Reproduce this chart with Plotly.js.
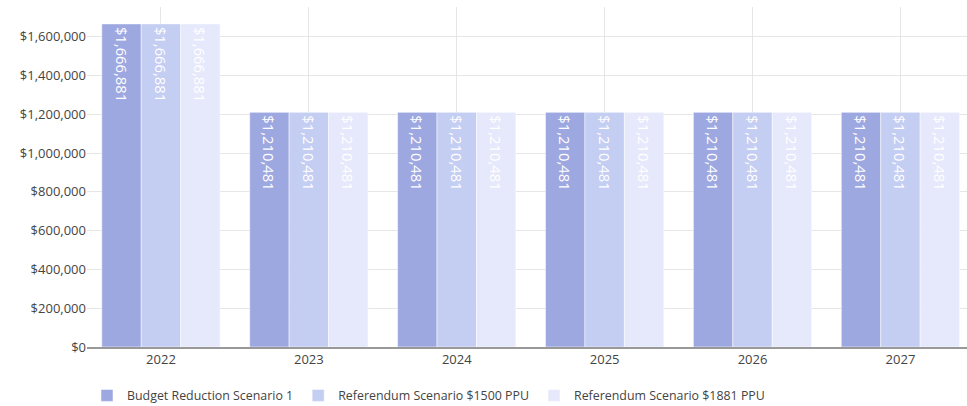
<!DOCTYPE html>
<html><head><meta charset="utf-8">
<script src="https://cdn.plot.ly/plotly-3.0.1.min.js"></script>
<style>html,body{margin:0;padding:0;background:#fff;}#chart{width:967px;height:406px;}</style>
</head><body><div id="chart"></div>
<script>
var years = ["2022","2023","2024","2025","2026","2027"];
var seriesNames = ["Budget Reduction Scenario 1","Referendum Scenario $1500 PPU","Referendum Scenario $1881 PPU"];
var budgetReduction1 = [1666881,1210481,1210481,1210481,1210481,1210481];
var referendum1500 = [1666881,1210481,1210481,1210481,1210481,1210481];
var referendum1881 = [1666881,1210481,1210481,1210481,1210481,1210481];
var colors = ["#9ea8e0","#c4cdf2","#e6e9fb"];
var allValues = [budgetReduction1, referendum1500, referendum1881];

function fmt(v){ return "$" + v.toLocaleString("en-US"); }

var traces = allValues.map(function(vals, i){
  return {
    type: "bar",
    name: seriesNames[i],
    x: years,
    y: vals,
    text: vals.map(fmt),
    textposition: "inside",
    insidetextanchor: "end",
    textangle: 90,
    textfont: {family: "Open Sans", size: 14.8, color: "#ffffff"},
    insidetextfont: {family: "Open Sans", size: 14.8, color: "#ffffff"},
    marker: {color: colors[i], line: {color: "rgba(255,255,255,0.5)", width: 1}},
    hoverinfo: "none"
  };
});

var layout = {
  width: 967, height: 406,
  margin: {l: 87, r: 0, t: 7, b: 59},
  font: {family: "Open Sans", size: 12, color: "#444"},
  barmode: "group",
  bargap: 0.2,
  bargroupgap: 0,
  paper_bgcolor: "#fff",
  plot_bgcolor: "#fff",
  showlegend: true,
  legend: {orientation: "h", x: 0.0, xanchor: "left", yref: "container", y: 0.062, yanchor: "top", font: {size: 12.4, color: "#444"}},
  xaxis: {
    type: "category",
    range: [-0.5, 5.45],
    showgrid: true, gridcolor: "#e6e6e6",
    showline: true, linecolor: "#999", linewidth: 1.5,
    ticks: "", tickfont: {size: 13, color: "#444"},
    fixedrange: true
  },
  yaxis: {
    range: [0, 1754000],
    dtick: 200000,
    tickprefix: "$", tickformat: ",d",
    showgrid: true, gridcolor: "#e6e6e6",
    zeroline: false,
    ticks: "", tickfont: {size: 13, color: "#444"},
    automargin: false,
    fixedrange: true
  }
};

Plotly.newPlot("chart", traces, layout, {displayModeBar: false, staticPlot: true});
</script>
</body></html>
